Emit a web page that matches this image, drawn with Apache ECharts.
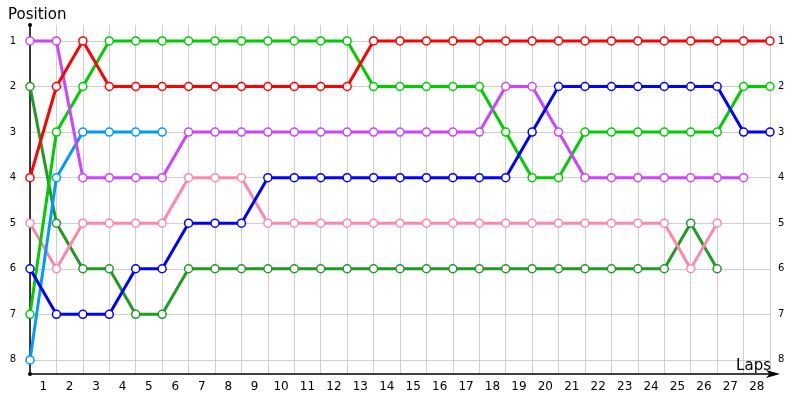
<!DOCTYPE html>
<html>
<head>
<meta charset="utf-8">
<script src="https://cdn.jsdelivr.net/npm/echarts@6/dist/echarts.min.js"></script>
<style>html,body{margin:0;padding:0;background:#fff}#c{width:800px;height:400px}</style>
</head>
<body>
<div id="c"></div>
<script>
const lapLabels = ['1','2','3','4','5','6','7','8','9','10','11','12','13','14','15','16','17','18','19','20','21','22','23','24','25','26','27','28'];
const positionTicks = [1,2,3,4,5,6,7,8];
const redPos       = [4,2,1,2,2,2,2,2,2,2,2,2,2,1,1,1,1,1,1,1,1,1,1,1,1,1,1,1,1];
const greenPos     = [7,3,2,1,1,1,1,1,1,1,1,1,1,2,2,2,2,2,3,4,4,3,3,3,3,3,3,2,2];
const darkGreenPos = [2,5,6,6,7,7,6,6,6,6,6,6,6,6,6,6,6,6,6,6,6,6,6,6,6,5,6];
const purplePos    = [1,1,4,4,4,4,3,3,3,3,3,3,3,3,3,3,3,3,2,2,3,4,4,4,4,4,4,4];
const lightBluePos = [8,4,3,3,3,3];
const bluePos      = [6,7,7,7,6,6,5,5,5,4,4,4,4,4,4,4,4,4,4,3,2,2,2,2,2,2,2,3,3];
const pinkPos      = [5,6,5,5,5,5,4,4,4,5,5,5,5,5,5,5,5,5,5,5,5,5,5,5,5,6,5];

const seriesDefs = [
  {name:'DarkGreen', data: darkGreenPos, color:'#1f9a24'},
  {name:'Pink', data: pinkPos, color:'#ff88aa'},
  {name:'LightBlue', data: lightBluePos, color:'#0099ff'},
  {name:'Green', data: greenPos, color:'#00cc00'},
  {name:'Purple', data: purplePos, color:'#cc44ff'},
  {name:'Blue', data: bluePos, color:'#0000ff'},
  {name:'Red', data: redPos, color:'#ff0000'}
];

const chart = echarts.init(document.getElementById('c'), null, {renderer:'canvas'});
const yMin = 0.65, yMax = 8.31;
const font = 'DejaVu Sans';
chart.setOption({
  animation: false,
  backgroundColor: '#fff',
  title: [
    {text:'Position', left: 3, top: 3, textStyle:{fontFamily: font, fontSize: 15, fontWeight:'normal', color:'#000'}},
    {text:'Laps', right: 24, top: 354, textStyle:{fontFamily: font, fontSize: 15, fontWeight:'normal', color:'#000'}}
  ],
  grid: {left: 30, right: 30, top: 25, bottom: 26, containLabel: false},
  xAxis: [
    {type:'value', min:0, max:28, interval:1,
     axisLine:{show:true, lineStyle:{color:'#000', width:1.5}, symbol:['none','arrow'], symbolSize:[6,14], symbolOffset:[0,10]},
     axisTick:{show:false}, axisLabel:{show:false},
     splitLine:{show:true, lineStyle:{color:'#cfcfcf', width:1}}},
    {type:'category', data: lapLabels, boundaryGap:true, position:'bottom',
     axisLine:{show:false}, axisTick:{show:false},
     axisLabel:{show:true, interval:0, margin:7, fontFamily: font, fontSize:12, color:'#000'},
     splitLine:{show:false}}
  ],
  yAxis: [
    {type:'value', inverse:true, min:yMin, max:yMax,
     axisLine:{show:true, onZero:false, lineStyle:{color:'#000', width:1.5}, symbol:['circle','circle'], symbolSize:[4,4]},
     axisTick:{show:false, customValues: positionTicks},
     axisLabel:{show:true, customValues: positionTicks, margin:14, fontFamily: font, fontSize:10, color:'#000'},
     splitLine:{show:true, lineStyle:{color:'#cfcfcf', width:1}}},
    {type:'value', inverse:true, min:yMin, max:yMax, position:'right',
     axisLine:{show:false}, axisTick:{show:false, customValues: positionTicks},
     axisLabel:{show:true, customValues: positionTicks, margin:8, fontFamily: font, fontSize:10, color:'#000'},
     splitLine:{show:false}}
  ],
  series: seriesDefs.map(s => ({
    name: s.name, type:'line', xAxisIndex:0, yAxisIndex:0,
    data: s.data.map((p,i) => [i,p]),
    symbol:'circle', symbolSize:8, showSymbol:true,
    lineStyle:{color:s.color, width:3},
    itemStyle:{color:'#fff', borderColor:s.color, borderWidth:1.5},
    emphasis:{disabled:true}
  }))
});
</script>
</body>
</html>
